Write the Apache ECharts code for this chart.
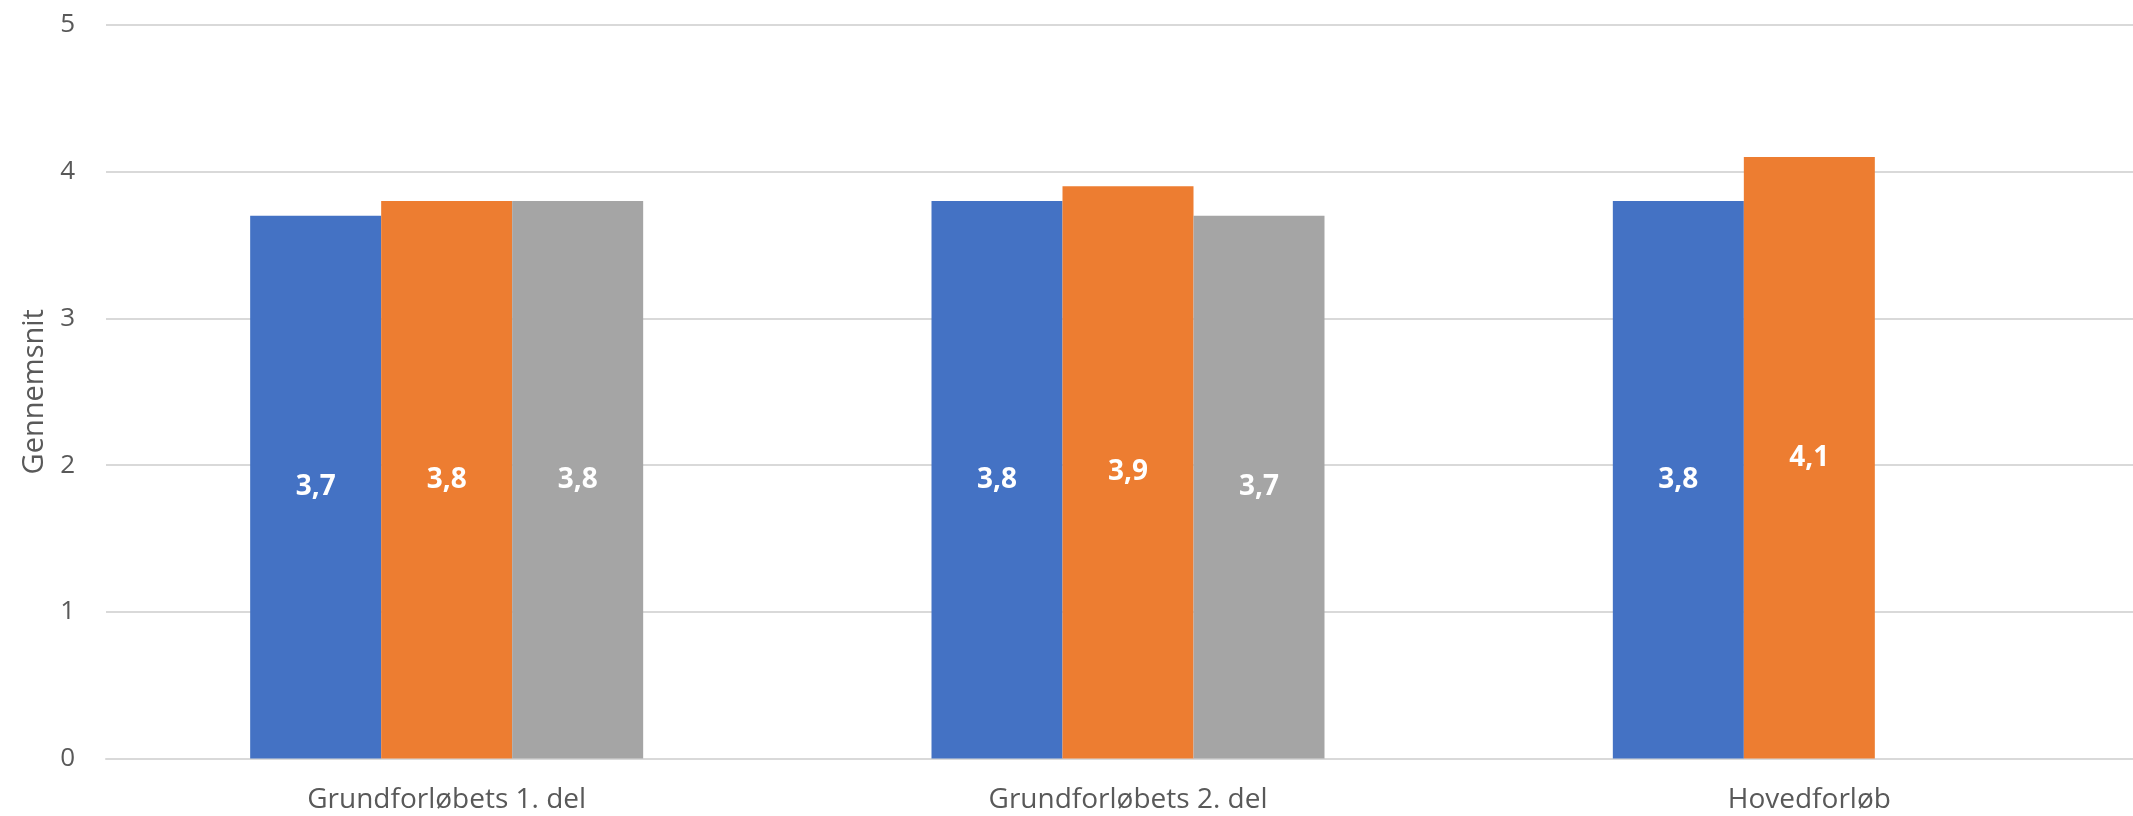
<!DOCTYPE html>
<html>
<head>
<meta charset="utf-8">
<script src="https://cdn.jsdelivr.net/npm/echarts@6/dist/echarts.min.js"></script>
<style>
html,body{margin:0;padding:0;background:#fff;}
#chart{width:2133px;height:816px;}
</style>
</head>
<body>
<div id="chart"></div>
<script>
const categories = ['Grundforløbets 1. del', 'Grundforløbets 2. del', 'Hovedforløb'];
const series1 = [3.7, 3.8, 3.8];
const series2 = [3.8, 3.9, 4.1];
const series3 = [3.8, 3.7, null];
const seriesNames = ['Serie 1', 'Serie 2', 'Serie 3'];
const colors = ['#4472C4', '#ED7D31', '#A5A5A5'];
const yTicks = [0, 1, 2, 3, 4, 5];
const yAxisName = 'Gennemsnit';

const FONT = '"Open Sans", "Noto Sans", sans-serif';
const chart = echarts.init(document.getElementById('chart'), null, {renderer: 'canvas'});

function mkSeries(name, data, color) {
  return {
    name: name,
    type: 'bar',
    data: data,
    barWidth: 131,
    barGap: '0%',
    itemStyle: {color: color},
    label: {
      show: true,
      position: 'inside',
      color: '#ffffff',
      fontFamily: FONT,
      fontWeight: 'bold',
      fontSize: 28,
      formatter: p => p.value == null ? '' : String(p.value.toFixed(1)).replace('.', ',')
    },
    emphasis: {disabled: true}
  };
}

chart.setOption({
  animation: false,
  backgroundColor: '#ffffff',
  grid: {left: 106, top: 25, width: 2044, height: 733.5, containLabel: false, outerBoundsMode: 'none'},
  xAxis: {
    type: 'category',
    data: categories,
    axisLine: {show: true, lineStyle: {color: '#D9D9D9', width: 2}},
    axisTick: {show: false},
    axisLabel: {color: '#595959', fontFamily: FONT, fontSize: 28, margin: 28}
  },
  yAxis: {
    type: 'value',
    min: yTicks[0],
    max: yTicks[yTicks.length - 1],
    interval: 1,
    name: yAxisName,
    nameLocation: 'middle',
    nameGap: 57,
    nameRotate: 90,
    nameTextStyle: {color: '#595959', fontFamily: FONT, fontSize: 29},
    axisLine: {show: false},
    axisTick: {show: false},
    splitLine: {show: true, lineStyle: {color: '#D9D9D9', width: 2}},
    axisLabel: {color: '#595959', fontFamily: FONT, fontSize: 26, margin: 31}
  },
  series: [
    mkSeries(seriesNames[0], series1, colors[0]),
    mkSeries(seriesNames[1], series2, colors[1]),
    mkSeries(seriesNames[2], series3, colors[2])
  ]
});
</script>
</body>
</html>
